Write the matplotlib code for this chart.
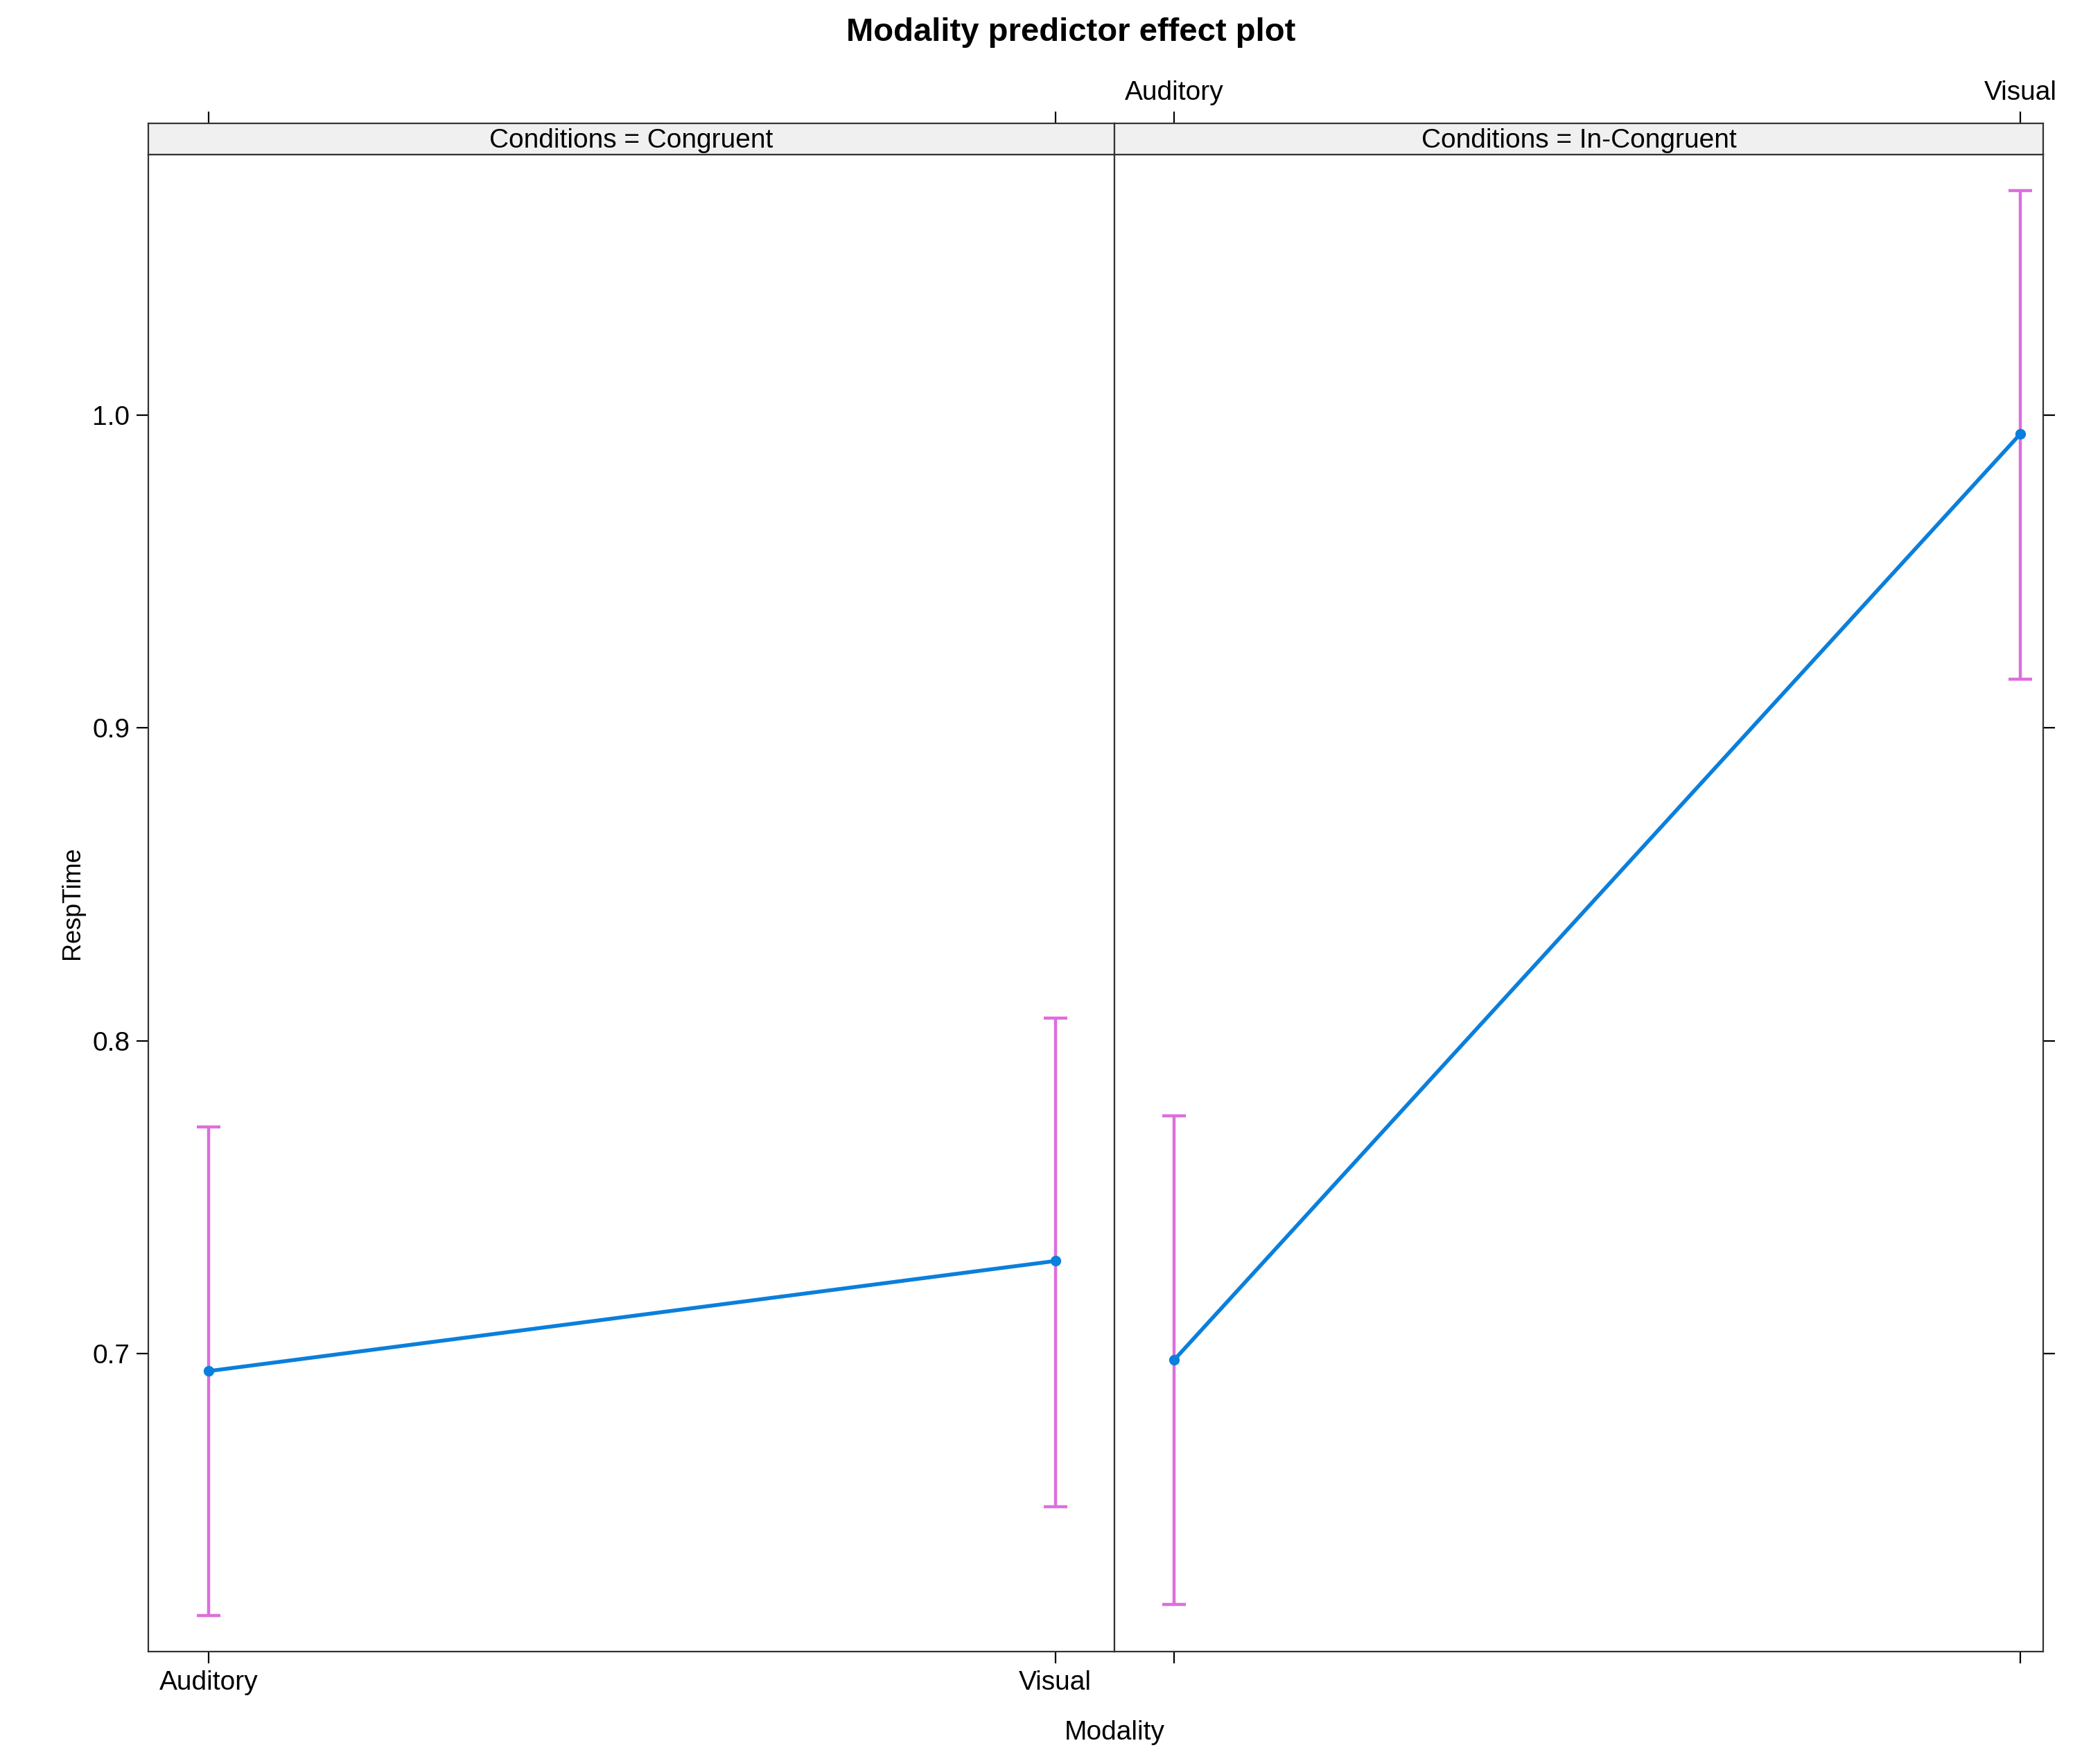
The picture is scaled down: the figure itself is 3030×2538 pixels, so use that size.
import matplotlib
matplotlib.use("Agg")
import matplotlib.pyplot as plt

plt.rcParams["font.family"] = ["Liberation Sans", "DejaVu Sans"]

# data
levels = ["Auditory", "Visual"]
panels = ["Conditions = Congruent", "Conditions = In-Congruent"]
fit = [[0.6944, 0.7296], [0.6979, 0.9940]]
lower = [[0.6163, 0.6511], [0.6197, 0.9155]]
upper = [[0.7725, 0.8073], [0.7760, 1.0717]]
yticks = [0.7, 0.8, 0.9, 1.0]

LINE = "#0a7fdc"
CI = "#dd6edd"
FS = 14

fig = plt.figure(figsize=(15.15, 12.69), dpi=200)
x_edges = [(0.0705, 0.5308), (0.5308, 0.973)]
y0, y1, ys = 0.061, 0.9122, 0.9298
xlims = [(-0.0715, 1.07), (-0.07, 1.027)]

for i in range(2):
    xa, xb = x_edges[i]
    ax = fig.add_axes([xa, y0, xb - xa, y1 - y0])
    sx = fig.add_axes([xa, y1, xb - xa, ys - y1])
    xs = list(range(len(levels)))
    ax.errorbar(xs, fit[i], yerr=[[f - l for f, l in zip(fit[i], lower[i])],
                                  [u - f for f, u in zip(fit[i], upper[i])]],
                fmt="none", ecolor=CI, elinewidth=1.6, capsize=6, capthick=1.6)
    ax.plot(xs, fit[i], "-o", color=LINE, lw=2, ms=4.5)
    ax.set_xlim(*xlims[i])
    ax.set_ylim(0.6047, 1.0833)
    ax.set_xticks(xs)
    ax.set_yticks(yticks)
    ax.tick_params(direction="out", length=6, labelsize=FS, width=0.8)
    for s in ax.spines.values():
        s.set_color("#333333")
    if i == 0:
        ax.set_xticklabels(levels)
        ax.set_yticklabels([f"{v:.1f}" for v in yticks])
        ax.set_ylabel("RespTime", fontsize=FS - 1)
    else:
        ax.set_xticklabels([])
        ax.yaxis.tick_right()
        ax.set_yticklabels([])
    # strip
    sx.set_xlim(*xlims[i])
    sx.set_facecolor("#f0f0f0")
    sx.set_yticks([])
    sx.set_xticks(xs)
    sx.xaxis.tick_top()
    sx.tick_params(direction="out", length=6, labelsize=FS, width=0.8)
    sx.set_xticklabels(levels if i == 1 else [])
    sx.text(0.5, 0.45, panels[i], transform=sx.transAxes, ha="center",
            va="center", fontsize=FS)
    for s in sx.spines.values():
        s.set_color("#333333")

fig.text(0.5308, 0.008, "Modality", ha="center", va="bottom", fontsize=FS)
fig.text(0.51, 0.99, "Modality predictor effect plot", ha="center",
         va="top", fontsize=17, fontweight="bold")
fig.savefig("out.png", dpi=200)
